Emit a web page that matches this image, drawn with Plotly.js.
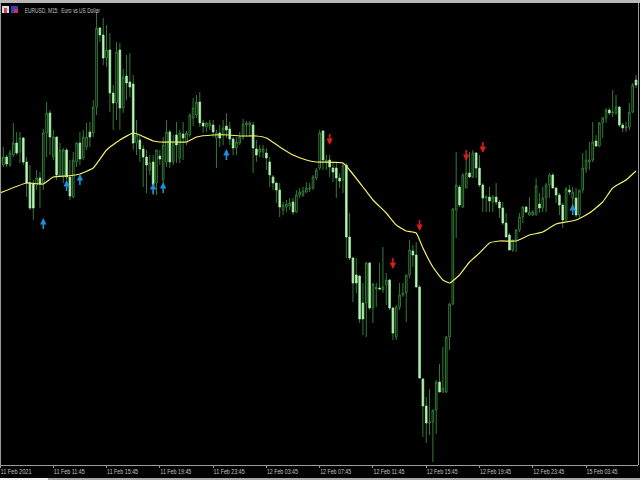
<!DOCTYPE html>
<html><head><meta charset="utf-8">
<script src="https://cdn.plot.ly/plotly-3.0.1.min.js"></script>
<style>html,body{margin:0;padding:0;background:#000;overflow:hidden}</style>
</head><body><div id="chart" style="width:640px;height:480px"></div>
<script>
// Price values are in points above the chart floor, one entry per 15-minute bar.
var open  = [301,299,307,299,309,321,312,326,302,281,280,279,286,281,331,351,307,327,289,287,314,287,267,302,321,306,317,332,331,357,436,429,406,414,371,361,414,356,388,382,380,321,324,315,307,294,302,281,308,284,302,332,302,329,306,330,321,329,346,349,362,341,337,338,339,326,331,329,338,335,325,316,321,327,339,339,339,315,312,312,311,302,287,281,274,254,257,258,262,252,269,269,272,275,276,286,296,333,302,304,296,296,286,284,299,227,206,189,188,161,161,201,156,175,176,174,179,184,156,127,157,169,171,189,213,209,177,85,58,41,42,54,82,72,72,127,160,254,277,257,276,291,287,311,296,279,266,267,262,267,262,256,241,229,214,224,234,247,257,249,249,249,260,256,266,279,289,276,269,259,244,274,266,266,249,274,295,302,304,323,318,341,346,354,351,351,357,339,336,337,352,384];
var high  = [314,317,309,314,341,332,332,327,307,299,284,294,292,335,362,354,334,327,321,316,316,304,312,322,332,334,341,342,364,452,437,446,439,431,379,422,421,395,409,411,389,344,329,319,314,309,309,314,314,327,344,334,329,342,334,342,333,351,366,369,372,344,342,344,344,334,339,344,351,342,327,327,332,345,343,343,342,324,319,319,316,307,289,281,281,262,264,266,266,274,276,277,282,281,289,296,334,334,309,309,302,302,291,301,301,251,207,206,189,181,202,202,181,181,201,217,191,185,157,159,181,181,189,224,219,222,179,86,67,75,54,84,100,117,128,161,256,312,279,291,306,312,314,312,309,281,269,277,269,281,264,262,251,231,224,235,251,258,258,267,254,286,271,277,281,291,291,277,271,261,277,279,277,276,274,311,314,322,342,329,342,347,356,356,374,369,358,341,342,361,381,389];
var low   = [297,297,297,297,307,309,301,299,267,254,244,274,256,274,307,309,304,284,287,281,284,264,266,297,299,304,314,317,327,349,422,399,397,352,334,344,334,351,364,367,314,309,302,277,271,289,269,269,299,279,297,296,299,301,301,304,319,327,338,346,337,331,332,334,327,296,317,319,326,319,309,309,319,324,327,327,291,302,307,306,294,277,274,261,247,249,252,254,249,251,266,267,271,272,274,284,294,294,294,287,282,266,276,271,206,204,162,171,141,129,127,154,141,157,174,171,159,154,124,124,154,167,142,186,197,177,85,27,21,29,2,30,72,71,71,114,159,226,257,256,276,286,286,286,277,252,252,252,252,259,246,239,227,214,212,212,232,241,251,248,248,249,251,252,252,266,276,261,249,236,244,269,252,247,246,271,291,294,302,317,317,326,341,349,347,349,337,332,332,334,351,376];
var close = [307,307,300,311,321,311,326,302,281,256,256,286,280,331,351,327,327,289,314,314,287,268,304,321,305,327,327,327,357,436,429,406,414,371,361,412,356,387,381,377,321,329,315,307,299,301,279,314,305,319,332,302,322,319,331,326,331,349,356,362,341,338,341,341,332,331,326,336,334,325,316,322,327,340,341,341,316,309,315,315,306,289,281,274,257,259,260,261,252,269,272,273,276,276,287,294,331,304,304,297,292,286,283,299,227,206,181,181,145,145,201,156,180,177,175,177,184,156,131,157,169,171,189,214,209,177,86,58,41,42,54,82,72,76,127,160,255,279,259,289,291,287,311,296,279,266,267,263,267,262,256,241,227,214,224,234,247,257,252,252,252,278,256,266,279,289,276,269,259,244,275,272,272,249,274,296,304,304,322,318,341,346,354,351,352,357,339,336,337,352,379,379];

// Moving average read at selected bars.
var maBars   = [0,8,13,16,20,24,28,32,36,40,42,46,48,53,56,59,64,69,72,77,80,84,88,92,95,103,105,109,112,116,119,122,125,127,130,133,135,138,141,144,147,150,155,159,163,167,173,177,181,184,188,191];
var maValues = [271,281,280,287,288,290,296,314,324,331,329,323,322,322,322,327,329,329,328,328,326,317,309,304,302,301,294,277,264,251,239,233,231,216,197,184,181,189,202,211,221,223,223,229,232,240,244,251,262,276,284,293];

// Signal arrows.
var buyBars    = [13,20,24,46,49,68,172];
var buyValues  = [240,278,284,275,276,309,254];
var sellBars   = [99,118,126,140,145];
var sellValues = [325,201,239,309,317];

// Axis labels, one every 16 bars.
var tickBars = [0,16,32,48,64,80,96,112,128,144,160,176];
var tickLabels = ["11 Feb 2021","11 Feb 11:45","11 Feb 15:45","11 Feb 19:45","11 Feb 23:45","12 Feb 03:45","12 Feb 07:45","12 Feb 11:45","12 Feb 15:45","12 Feb 19:45","12 Feb 23:45","15 Feb 03:45"];

var chartTitle = "EURUSD, M15:  Euro vs US Dollar";

var bars = open.map(function(_, i){ return i; });
var downBars = bars.filter(function(i){ return close[i] < open[i]; });
var WICK = "#337a35", BODY = "#b8f2b8", TXT = "#c0c0c0", FRAME = "#9a9a9a";
var labelFont = {family: '"Liberation Sans",sans-serif', size: 7, color: TXT};

function px(x){ return x/640; }
function py(y){ return 1 - y/480; }
function rect(x0,y0,x1,y1,c){ return {type:"rect",xref:"paper",yref:"paper",x0:px(x0),x1:px(x1),y0:py(y0),y1:py(y1),fillcolor:c,line:{width:0},layer:"above"}; }
function arrow(bar, value, dir, color){
  return {xref:"x",yref:"y",axref:"x",ayref:"y",x:bar,y:value+dir*6,ax:bar,ay:value-dir*6,text:" ",font:{size:1},borderpad:0,showarrow:true,
    arrowhead:2,arrowsize:0.8,arrowwidth:1.6,arrowcolor:color,standoff:0,startstandoff:0};
}

var traces = [
  {type:"candlestick", x:bars, open:open, high:high, low:low, close:close, whiskerwidth:0,
   increasing:{line:{color:WICK,width:1},fillcolor:"#000"},
   decreasing:{line:{color:WICK,width:1},fillcolor:"#000"}, hoverinfo:"skip"},
  {type:"candlestick", x:downBars,
   open:downBars.map(function(i){return open[i];}),
   high:downBars.map(function(i){return open[i];}),
   low:downBars.map(function(i){return close[i];}),
   close:downBars.map(function(i){return close[i];}), whiskerwidth:0,
   increasing:{line:{color:BODY,width:0.5},fillcolor:BODY},
   decreasing:{line:{color:BODY,width:0.5},fillcolor:BODY}, hoverinfo:"skip"},
  {type:"scatter", mode:"lines", x:maBars, y:maValues, line:{color:"#f4f06a",width:1.2,shape:"spline",smoothing:0.4}, hoverinfo:"skip"}
];

var annotations = [{xref:"paper",yref:"paper",x:px(5.5),y:py(10),xanchor:"left",yanchor:"middle",text:chartTitle,showarrow:false,font:labelFont}]
  .concat(buyBars.map(function(b,i){ return arrow(b,buyValues[i],1,"#1e8fd8"); }))
  .concat(sellBars.map(function(b,i){ return arrow(b,sellValues[i],-1,"#d81c1c"); }));

var layout = {
  width:640, height:480, margin:{l:0,r:0,t:0,b:0,pad:0}, paper_bgcolor:"#000", plot_bgcolor:"#000", showlegend:false,
  xaxis:{domain:[0,638/640], range:[0,191.6], type:"linear", rangeslider:{visible:false}, showgrid:false, zeroline:false,
    tickmode:"array", tickvals:tickBars, ticktext:tickLabels, ticks:"outside", ticklen:2, tickwidth:1, tickcolor:FRAME,
    showline:true, linecolor:FRAME, linewidth:1, tickfont:labelFont, ticklabelshift:16, ticklabelstandoff:-2, ticklabeloverflow:"allow", tickangle:0, automargin:false},
  yaxis:{domain:[15/480,476/480], range:[-1,460], visible:false, fixedrange:true},
  shapes:[
    rect(0,0,640,3,"#b8b8b8"), rect(0,3,1,465,FRAME), rect(638,3,639,465,FRAME),
    rect(0,478,48,480,"#f0f0f0"), rect(48,478,640,480,"#a8a8a8"),
    rect(2,6,9,13,"#d8d8e8"), rect(4,8,7,13,"#c05050"),
    rect(11,6,18,13,"#3040c0"), rect(14,9,18,13,"#d03040")
  ],
  annotations:annotations
};
Plotly.newPlot("chart", traces, layout, {displayModeBar:false, staticPlot:true}).then(function(gd){
  // The original labels use a condensed face: fit the real text to the widths measured on the picture.
  gd.querySelectorAll(".xtick text").forEach(function(t){
    t.setAttribute("textLength", 31); t.setAttribute("lengthAdjust", "spacingAndGlyphs");
  });
  gd.querySelectorAll(".annotation-text").forEach(function(t){
    if (t.textContent.indexOf("EURUSD") === 0) { t.setAttribute("textLength", 75); t.setAttribute("lengthAdjust", "spacingAndGlyphs"); }
  });
});
</script></body></html>
